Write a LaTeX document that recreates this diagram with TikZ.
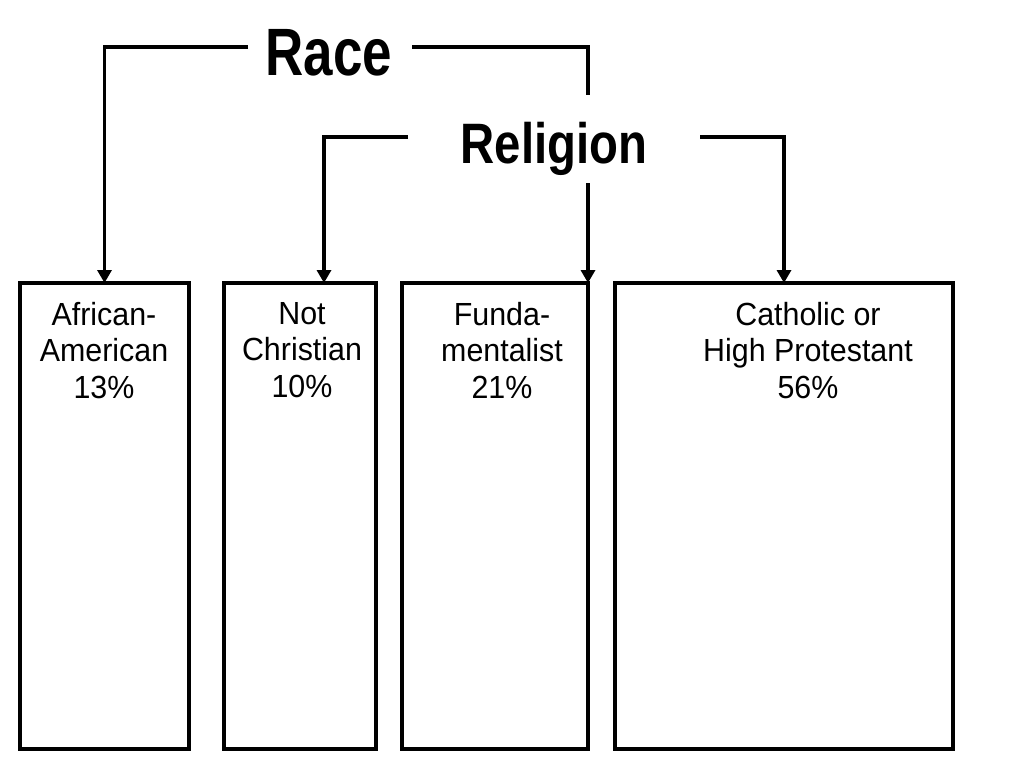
\documentclass[tikz,border=0pt]{standalone}
\usepackage{fontspec}
\setmainfont{Liberation Sans}[FakeStretch=0.95]
\newfontfamily\racefont{Liberation Sans}[FakeStretch=0.79]
\newfontfamily\relfont{Liberation Sans}[FakeStretch=0.83]
\usetikzlibrary{arrows.meta}
\begin{document}
\begin{tikzpicture}[x=1pt,y=-1pt,
  conn/.style={line width=3.5pt},
  arr/.style={conn,-{Triangle[width=14pt,length=13pt]}},
  box/.style={draw,line width=4pt,inner sep=0pt,outer sep=0pt,minimum height=466pt},
  lbl/.style={inner sep=0pt,anchor=north,align=center,font=\fontsize{32}{36.5}\selectfont},
  head/.style={inner sep=0pt,anchor=base}]
\useasboundingbox (0,0) rectangle (1024,768);

% boxes
\node[box,minimum width=169pt] (B1) at (104.5,516) {};
\node[box,minimum width=152pt] (B2) at (300,516) {};
\node[box,minimum width=186pt] (B3) at (495,516) {};
\node[box,minimum width=338pt] (B4) at (784,516) {};

% box labels
\node[lbl] (T1) at (104,302) {African-\\American\\13\%};
\node[lbl] (T2) at (302,302) {Not\\Christian\\10\%};
\node[lbl] (T3) at (502,302) {Funda-\\mentalist\\21\%};
\node[lbl] (T4) at (808,302) {Catholic or\\High Protestant\\56\%};

% headings
\node[head,font=\racefont\bfseries\fontsize{67}{67}\selectfont] (race) at (329,75) {Race};
\node[head,font=\relfont\bfseries\fontsize{57}{57}\selectfont] (rel) at (554,163) {Religion};

% connector end points
\coordinate (raceL) at (248,47);
\coordinate (raceR) at (412,47);
\coordinate (raceGapTop) at (588,95);
\coordinate (raceGapBot) at (588,183);
\coordinate (relL) at (408,137);
\coordinate (relR) at (700,137);

% connectors
\draw[arr] (raceL) -| (B1.north);
\draw[conn] (raceR) -| (raceGapTop);
\draw[arr] (raceGapBot) -- (B3.north east);
\draw[arr] (relL) -| ([xshift=24pt]B2.north);
\draw[arr] (relR) -| (B4.north);
\end{tikzpicture}
\end{document}
